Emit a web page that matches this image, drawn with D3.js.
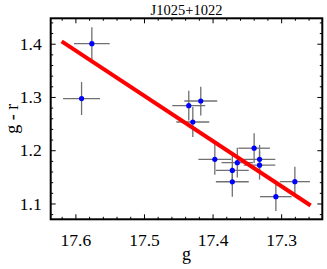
<!DOCTYPE html>
<html>
<head>
<meta charset="utf-8">
<script src="https://cdn.jsdelivr.net/npm/d3@7"></script>
<style>
html,body{margin:0;padding:0;background:#fff;}
svg{display:block;}
</style>
</head>
<body>
<svg id="c" width="327" height="269"></svg>
<script>
const title = "J1025+1022";
const xLabel = "g";
const yLabel = "g - r";
const gVals = [17.576,17.591,17.4347,17.4172,17.4288,17.3967,17.3394,17.3315,17.3639,17.3315,17.3712,17.3712,17.2800,17.3077];
const rVals = [1.400,1.297,1.2836,1.2924,1.2530,1.1830,1.2038,1.1830,1.1766,1.1719,1.1620,1.1408,1.1410,1.1128];
const gErr = [0.026,0.027,0.024,0.024,0.024,0.024,0.023,0.023,0.023,0.023,0.024,0.024,0.022,0.023];
const rErr = [0.031,0.031,0.028,0.027,0.028,0.029,0.028,0.027,0.028,0.027,0.028,0.028,0.028,0.027];
const fitG = [17.620,17.257];
const fitR = [1.4045,1.0962];
const xTicks = [17.6,17.5,17.4,17.3];
const yTicks = [1.1,1.2,1.3,1.4];
const xDomain = [17.636,17.240];
const yDomain = [1.0703,1.4477];

const L=50.7, R=322.3, T=18.3, B=219.3;
const svg = d3.select("#c");
const x = d3.scaleLinear().domain(xDomain).range([L,R]);
const y = d3.scaleLinear().domain(yDomain).range([B,T]);

const xMinor = d3.range(17.26,17.63,0.02).map(v=>+v.toFixed(2)).filter(v=>!xTicks.some(t=>Math.abs(t-v)<1e-6));
const yMinor = d3.range(1.08,1.445,0.02).map(v=>+v.toFixed(2)).filter(v=>!yTicks.some(t=>Math.abs(t-v)<1e-6));

const font = "'Liberation Serif','Times New Roman',serif";
function styleAxis(g){ g.select(".domain").remove(); g.selectAll("line").attr("stroke","#000").attr("stroke-width",1); g.selectAll("text").attr("font-family",font).attr("font-size","17.5px").attr("fill","#000"); }

// bottom
svg.append("g").attr("transform",`translate(0,${B})`).call(d3.axisBottom(x).tickValues(xTicks).tickSize(-5).tickPadding(14).tickFormat(d3.format(".1f"))).call(styleAxis);
svg.append("g").attr("transform",`translate(0,${B})`).call(d3.axisBottom(x).tickValues(xMinor).tickSize(-2.5).tickFormat("")).call(styleAxis);
// top
svg.append("g").attr("transform",`translate(0,${T})`).call(d3.axisTop(x).tickValues(xTicks).tickSize(-5).tickFormat("")).call(styleAxis);
svg.append("g").attr("transform",`translate(0,${T})`).call(d3.axisTop(x).tickValues(xMinor).tickSize(-2.5).tickFormat("")).call(styleAxis);
// left
svg.append("g").attr("transform",`translate(${L},0)`).call(d3.axisLeft(y).tickValues(yTicks).tickSize(-5).tickPadding(9).tickFormat(d3.format(".1f"))).call(styleAxis);
svg.append("g").attr("transform",`translate(${L},0)`).call(d3.axisLeft(y).tickValues(yMinor).tickSize(-2.5).tickFormat("")).call(styleAxis);
// right
svg.append("g").attr("transform",`translate(${R},0)`).call(d3.axisRight(y).tickValues(yTicks).tickSize(-5).tickFormat("")).call(styleAxis);
svg.append("g").attr("transform",`translate(${R},0)`).call(d3.axisRight(y).tickValues(yMinor).tickSize(-2.5).tickFormat("")).call(styleAxis);

const data = gVals.map((g,i)=>({g, r:rVals[i], ge:gErr[i], re:rErr[i]}));
const eb = svg.append("g").attr("stroke","#707070").attr("stroke-width",1.3);
eb.selectAll(".h").data(data).join("line")
  .attr("x1",d=>x(d.g-d.ge)).attr("x2",d=>x(d.g+d.ge)).attr("y1",d=>y(d.r)).attr("y2",d=>y(d.r));
eb.selectAll(".v").data(data).join("line").attr("class","v")
  .attr("x1",d=>x(d.g)).attr("x2",d=>x(d.g)).attr("y1",d=>y(d.r-d.re)).attr("y2",d=>y(d.r+d.re));
svg.append("g").selectAll("circle").data(data).join("circle")
  .attr("cx",d=>x(d.g)).attr("cy",d=>y(d.r)).attr("r",2.6).attr("fill","#0000ff");

svg.append("path").datum(fitG.map((g,i)=>[g,fitR[i]]))
  .attr("d",d3.line().x(d=>x(d[0])).y(d=>y(d[1])))
  .attr("stroke","#ff0000").attr("stroke-width",4).attr("fill","none");

// frame
svg.append("rect").attr("x",L).attr("y",T).attr("width",R-L).attr("height",B-T)
  .attr("fill","none").attr("stroke","#000").attr("stroke-width",2);

svg.append("text").attr("x",(L+R)/2).attr("y",15).attr("text-anchor","middle")
  .attr("font-family",font).attr("font-size","14.5px").text(title);
svg.append("text").attr("x",(L+R)/2).attr("y",260).attr("text-anchor","middle")
  .attr("font-family",font).attr("font-size","18px").text(xLabel);
svg.append("text").attr("transform",`translate(18,${(T+B)/2}) rotate(-90)`).attr("text-anchor","middle")
  .attr("font-family",font).attr("font-size","18px").text(yLabel);
</script>
</body>
</html>
